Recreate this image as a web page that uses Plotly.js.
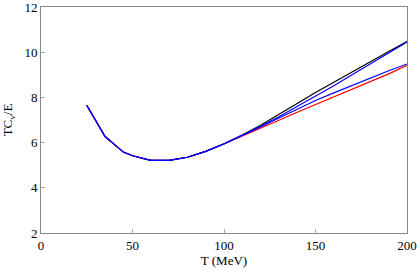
<!DOCTYPE html>
<html>
<head>
<meta charset="utf-8">
<script src="https://cdn.plot.ly/plotly-3.0.1.min.js"></script>
<style>html,body{margin:0;padding:0;background:#fff;}#chart{width:417px;height:271px;}</style>
</head>
<body>
<div id="chart"></div>
<script>
var T = [25, 35, 45, 50, 60, 70, 80, 90, 100, 110, 120, 130, 140, 150, 160, 170, 180, 190, 200];
var blackVals = [7.65, 6.27, 5.58, 5.42, 5.21, 5.21, 5.35, 5.61, 5.95, 6.33, 6.77, 7.24, 7.73, 8.22, 8.68, 9.13, 9.58, 10.03, 10.47];
var redVals = [7.65, 6.27, 5.58, 5.42, 5.21, 5.21, 5.35, 5.61, 5.94, 6.28, 6.63, 6.99, 7.34, 7.68, 8.01, 8.34, 8.68, 9.04, 9.42];
var blueLowVals = [7.65, 6.27, 5.58, 5.42, 5.21, 5.21, 5.35, 5.61, 5.94, 6.31, 6.69, 7.09, 7.48, 7.86, 8.20, 8.53, 8.86, 9.18, 9.48];
var blueHighVals = [7.65, 6.27, 5.58, 5.42, 5.21, 5.21, 5.35, 5.61, 5.95, 6.32, 6.72, 7.14, 7.59, 8.05, 8.52, 9.00, 9.48, 9.96, 10.45];
var xTicks = [0, 50, 100, 150, 200];
var yTicks = [2, 4, 6, 8, 10, 12];

var FONT = '"Liberation Serif", "Times New Roman", serif';
function tr(y, color) {
  return {x: T, y: y, type: 'scatter', mode: 'lines', line: {color: color, width: 1.2}, hoverinfo: 'skip'};
}
var data = [tr(blackVals, '#000000'), tr(redVals, '#ff0000'), tr(blueLowVals, '#0000ff'), tr(blueHighVals, '#0000ff')];
var axisCommon = {
  showgrid: false, zeroline: false, showline: true, mirror: true,
  linecolor: '#888888', linewidth: 1, ticks: 'inside', ticklen: 4, tickcolor: '#aaaaaa',
  ticklabeloverflow: 'allow',
  tickfont: {family: FONT, size: 13, color: '#000'}
};
var layout = {
  width: 417, height: 271,
  margin: {l: 41, r: 10, t: 7, b: 38},
  paper_bgcolor: '#fff', plot_bgcolor: '#fff',
  showlegend: false,
  font: {family: FONT, size: 13, color: '#000'},
  xaxis: Object.assign({}, axisCommon, {range: [0, 200], tickvals: xTicks, ticktext: xTicks.map(String),
    title: {text: 'T (MeV)', font: {family: FONT, size: 13}, standoff: 4}}),
  yaxis: Object.assign({}, axisCommon, {range: [2, 12], tickvals: yTicks, ticktext: yTicks.map(String),
    title: {text: 'TC<sub>v</sub>/E', font: {family: FONT, size: 13}, standoff: 8}})
};
Plotly.newPlot('chart', data, layout, {staticPlot: true, displayModeBar: false});
</script>
</body>
</html>
